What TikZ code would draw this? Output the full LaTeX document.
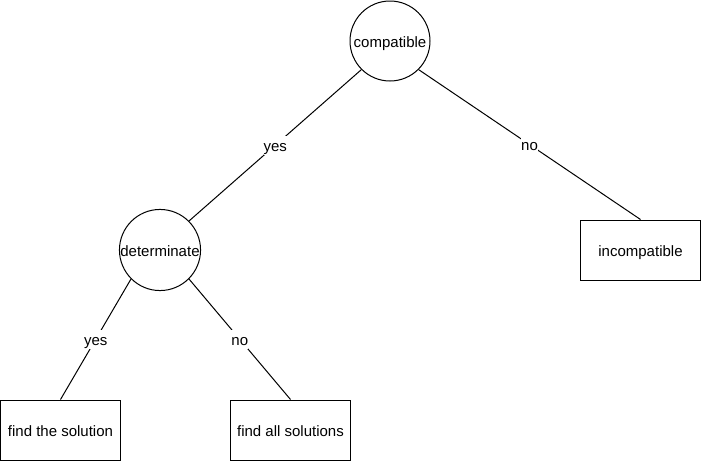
\documentclass[tikz,border=0pt]{standalone}
\usepackage{fontspec}
\setmainfont{Liberation Sans}
\begin{document}
\begin{tikzpicture}[x=1pt,y=-1pt,
  every node/.style={font=\fontsize{15}{18}\selectfont,text height=15.4pt,text depth=3.2pt},
  circ/.style={draw,circle,minimum size=80pt,inner sep=0pt,line width=1pt},
  box/.style={draw,rectangle,minimum width=120pt,minimum height=60pt,inner sep=0pt,line width=1pt},
  lbl/.style={fill=white,inner sep=0pt},
  conn/.style={line width=1pt}]
\useasboundingbox (0,0) rectangle (701,461);
\node[circ] (comp) at (390,41) {compatible};
\node[circ] (det) at (160,250) {determinate};
\node[box] (inc) at (640.5,250) {incompatible};
\node[box] (sol) at (60.5,430) {find the solution};
\node[box] (all) at (290.5,430) {find all solutions};
\draw[conn] (comp.225) -- node[lbl] {yes} (det.45);
\draw[conn] (comp.-45) -- node[lbl] {no} (inc.north);
\draw[conn] (det.225) -- node[lbl] {yes} (sol.north);
\draw[conn] (det.-45) -- node[lbl] {no} (all.north);
\end{tikzpicture}
\end{document}
